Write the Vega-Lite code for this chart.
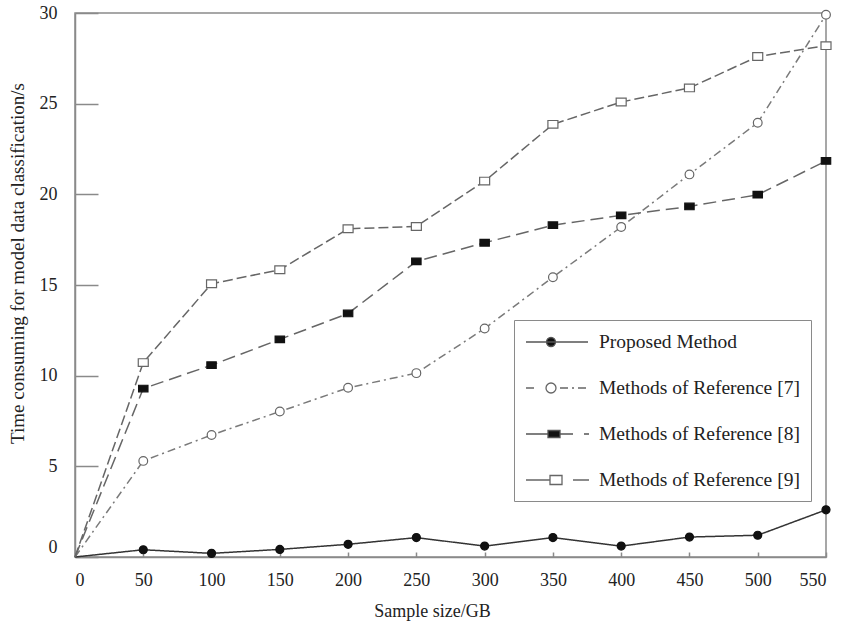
{
  "$schema": "https://vega.github.io/schema/vega-lite/v6.json",
  "width": 751,
  "height": 544,
  "autosize": "none",
  "padding": {"left": 75, "top": 13, "right": 19, "bottom": 65},
  "background": "white",
  "config": {
    "font": "Liberation Serif",
    "view": {"stroke": "#8a8a8a", "strokeWidth": 1.5}
  },
  "data": {"values": [
    {"series": "Proposed Method", "x": 0, "y": 0},
    {"series": "Proposed Method", "x": 50, "y": 0.4},
    {"series": "Proposed Method", "x": 100, "y": 0.2},
    {"series": "Proposed Method", "x": 150, "y": 0.42},
    {"series": "Proposed Method", "x": 200, "y": 0.7},
    {"series": "Proposed Method", "x": 250, "y": 1.07},
    {"series": "Proposed Method", "x": 300, "y": 0.6},
    {"series": "Proposed Method", "x": 350, "y": 1.07},
    {"series": "Proposed Method", "x": 400, "y": 0.6},
    {"series": "Proposed Method", "x": 450, "y": 1.1},
    {"series": "Proposed Method", "x": 500, "y": 1.2},
    {"series": "Proposed Method", "x": 550, "y": 2.6},
    {"series": "Methods of Reference [7]", "x": 0, "y": 0},
    {"series": "Methods of Reference [7]", "x": 50, "y": 5.3},
    {"series": "Methods of Reference [7]", "x": 100, "y": 6.73},
    {"series": "Methods of Reference [7]", "x": 150, "y": 8.02},
    {"series": "Methods of Reference [7]", "x": 200, "y": 9.33},
    {"series": "Methods of Reference [7]", "x": 250, "y": 10.14},
    {"series": "Methods of Reference [7]", "x": 300, "y": 12.6},
    {"series": "Methods of Reference [7]", "x": 350, "y": 15.43},
    {"series": "Methods of Reference [7]", "x": 400, "y": 18.2},
    {"series": "Methods of Reference [7]", "x": 450, "y": 21.1},
    {"series": "Methods of Reference [7]", "x": 500, "y": 23.95},
    {"series": "Methods of Reference [7]", "x": 550, "y": 29.9},
    {"series": "Methods of Reference [8]", "x": 0, "y": 0},
    {"series": "Methods of Reference [8]", "x": 50, "y": 9.29},
    {"series": "Methods of Reference [8]", "x": 100, "y": 10.58},
    {"series": "Methods of Reference [8]", "x": 150, "y": 12.0},
    {"series": "Methods of Reference [8]", "x": 200, "y": 13.43},
    {"series": "Methods of Reference [8]", "x": 250, "y": 16.3},
    {"series": "Methods of Reference [8]", "x": 300, "y": 17.33},
    {"series": "Methods of Reference [8]", "x": 350, "y": 18.3},
    {"series": "Methods of Reference [8]", "x": 400, "y": 18.84},
    {"series": "Methods of Reference [8]", "x": 450, "y": 19.33},
    {"series": "Methods of Reference [8]", "x": 500, "y": 19.98},
    {"series": "Methods of Reference [8]", "x": 550, "y": 21.84},
    {"series": "Methods of Reference [9]", "x": 0, "y": 0},
    {"series": "Methods of Reference [9]", "x": 50, "y": 10.72},
    {"series": "Methods of Reference [9]", "x": 100, "y": 15.07},
    {"series": "Methods of Reference [9]", "x": 150, "y": 15.84},
    {"series": "Methods of Reference [9]", "x": 200, "y": 18.1},
    {"series": "Methods of Reference [9]", "x": 250, "y": 18.23},
    {"series": "Methods of Reference [9]", "x": 300, "y": 20.73},
    {"series": "Methods of Reference [9]", "x": 350, "y": 23.86},
    {"series": "Methods of Reference [9]", "x": 400, "y": 25.09},
    {"series": "Methods of Reference [9]", "x": 450, "y": 25.87},
    {"series": "Methods of Reference [9]", "x": 500, "y": 27.6},
    {"series": "Methods of Reference [9]", "x": 550, "y": 28.2}
  ]},
  "encoding": {
    "x": {"field": "x", "type": "quantitative", "scale": {"domain": [0, 550], "nice": false},
      "axis": {"values": [0, 50, 100, 150, 200, 250, 300, 350, 400, 450, 500, 550], "grid": false, "domainColor": "#8a8a8a", "domainWidth": 1.5, "tickColor": "#8a8a8a", "tickWidth": 1.5, "tickSize": -5, "labelPadding": 19,
        "labelFont": "Liberation Serif", "labelFontSize": 18, "labelColor": "#222",
        "title": "Sample size/GB", "titleFont": "Liberation Serif", "titleFontSize": 18, "titleFontWeight": "normal", "titleColor": "#222", "titleX": 357, "titleY": 54, "titleBaseline": "middle", "titleAnchor": "start", "titleAlign": "center"}},
    "y": {"field": "y", "type": "quantitative", "scale": {"domain": [0, 30], "nice": false},
      "axis": {"values": [0, 5, 10, 15, 20, 25, 30], "grid": false, "domainColor": "#8a8a8a", "domainWidth": 1.5, "tickColor": "#8a8a8a", "tickWidth": 1.5, "tickSize": -23, "labelPadding": 41,
        "labelFont": "Liberation Serif", "labelFontSize": 18, "labelColor": "#222",
        "labelOffset": {"condition": {"test": "datum.value === 0", "value": -10}, "value": 0},
        "title": "Time consuming for model data classification/s", "titleFont": "Liberation Serif", "titleFontSize": 19, "titleFontWeight": "normal", "titleColor": "#222", "titleX": -58, "titleY": 250, "titleAngle": 270, "titleBaseline": "middle", "titleAlign": "center", "titleAnchor": "start"}}
  },
  "layer": [
    {
      "data": {"values": [{"tick": 5}, {"tick": 10}, {"tick": 15}, {"tick": 20}, {"tick": 25}]},
      "mark": {"type": "rule", "color": "#8a8a8a", "strokeWidth": 1.5},
      "encoding": {
        "y": {"field": "tick", "type": "quantitative"},
        "x": {"datum": 0},
        "x2": {"datum": 16.8}
      }
    },
    {
      "data": {"values": [{"tick": 50}, {"tick": 100}, {"tick": 150}, {"tick": 200}, {"tick": 250}, {"tick": 300}, {"tick": 350}, {"tick": 400}, {"tick": 450}, {"tick": 500}]},
      "mark": {"type": "rule", "color": "#8a8a8a", "strokeWidth": 1.5},
      "encoding": {
        "x": {"field": "tick", "type": "quantitative"},
        "y": {"datum": 0},
        "y2": {"datum": 0.28}
      }
    },
    {
      "mark": {"type": "line", "strokeWidth": 1.5},
      "encoding": {
        "detail": {"field": "series"},
        "stroke": {"field": "series", "type": "nominal", "legend": null,
          "scale": {"domain": ["Proposed Method", "Methods of Reference [7]", "Methods of Reference [8]", "Methods of Reference [9]"], "range": ["#333333", "#7a7a7a", "#666666", "#666666"]}},
        "strokeDash": {"field": "series", "type": "nominal", "legend": null,
          "scale": {"domain": ["Proposed Method", "Methods of Reference [7]", "Methods of Reference [8]", "Methods of Reference [9]"], "range": [[1, 0], [8, 4, 2, 4], [13, 6], [10, 4]]}}
      }
    },
    {
      "transform": [{"filter": "datum.x > 0"}],
      "mark": {"type": "point", "strokeWidth": 1.2, "opacity": 1},
      "encoding": {
        "shape": {"field": "series", "type": "nominal", "legend": null,
          "scale": {"domain": ["Proposed Method", "Methods of Reference [7]", "Methods of Reference [8]", "Methods of Reference [9]"], "range": ["circle", "circle", "M-1,-0.7H1V0.7H-1Z", "M-1,-0.77H1V0.77H-1Z"]}},
        "size": {"field": "series", "type": "nominal", "legend": null,
          "scale": {"domain": ["Proposed Method", "Methods of Reference [7]", "Methods of Reference [8]", "Methods of Reference [9]"], "range": [64, 100, 100, 137]}},
        "fill": {"field": "series", "type": "nominal", "legend": null,
          "scale": {"domain": ["Proposed Method", "Methods of Reference [7]", "Methods of Reference [8]", "Methods of Reference [9]"], "range": ["#111111", "#ffffff", "#111111", "#ffffff"]}},
        "stroke": {"field": "series", "type": "nominal", "legend": null,
          "scale": {"domain": ["Proposed Method", "Methods of Reference [7]", "Methods of Reference [8]", "Methods of Reference [9]"], "range": ["#111111", "#666666", "#111111", "#666666"]}}
      }
    },
    {
      "transform": [{"filter": "false"}],
      "mark": {"type": "point", "strokeWidth": 1.3, "opacity": 1},
      "encoding": {
        "shape": {"field": "series", "type": "nominal",
          "scale": {"domain": ["Proposed Method", "Methods of Reference [7]", "Methods of Reference [8]", "Methods of Reference [9]"],
            "range": ["M-1,0H5.2M1.95,0A0.45,0.45 0 1,1 1.05,0A0.45,0.45 0 1,1 1.95,0Z",
                      "M-1,0H-0.2M2.4,0H3.2M3.6,0H3.8M4.2,0H5.0M2.0,0A0.5,0.5 0 1,1 1.0,0A0.5,0.5 0 1,1 2.0,0Z",
                      "M-1,0H1.2M2.4,0H3.7M4.8,0H5.3M1.2,-0.35H2.4V0.35H1.2Z",
                      "M-1,0H1.4M3.7,0H5.3M1.4,-0.45H2.6V0.45H1.4Z"]},
          "legend": {"title": null, "orient": "none", "legendX": 439, "legendY": 307, "strokeColor": "#8a8a8a", "padding": 11, "rowPadding": 25, "symbolSize": 400, "symbolStrokeWidth": 1.3, "labelFont": "Liberation Serif", "labelFontSize": 19.5, "labelColor": "#222", "labelOffset": 52, "labelLimit": 400}},
        "fill": {"field": "series", "type": "nominal",
          "scale": {"domain": ["Proposed Method", "Methods of Reference [7]", "Methods of Reference [8]", "Methods of Reference [9]"], "range": ["#111111", "#ffffff", "#111111", "#ffffff"]}},
        "stroke": {"field": "series", "type": "nominal",
          "scale": {"domain": ["Proposed Method", "Methods of Reference [7]", "Methods of Reference [8]", "Methods of Reference [9]"], "range": ["#555555", "#666666", "#555555", "#666666"]}}
      }
    }
  ],
  "resolve": {"scale": {"shape": "independent", "fill": "independent", "stroke": "independent", "size": "independent"}}
}
